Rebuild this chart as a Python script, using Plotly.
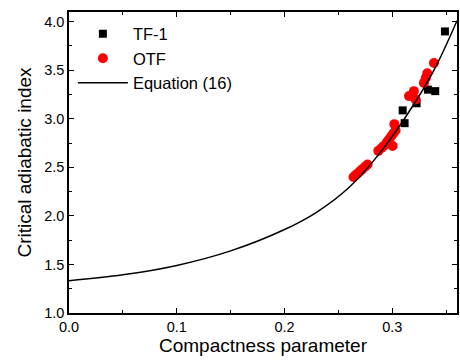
import plotly.graph_objects as go

# TF-1 (black squares)
tf1_x = [0.3488, 0.3398, 0.3330, 0.3225, 0.3096, 0.3114]
tf1_y = [3.90, 3.285, 3.30, 3.160, 3.087, 2.955]

# OTF (red circles)
otf_x = [0.264, 0.266, 0.268, 0.270, 0.272, 0.275, 0.277,
         0.287, 0.290, 0.292, 0.295, 0.297, 0.299, 0.301, 0.303,
         0.3003, 0.3019,
         0.3155, 0.3200, 0.3216, 0.3293, 0.3310, 0.3324, 0.3386]
otf_y = [2.40, 2.42, 2.44, 2.46, 2.48, 2.51, 2.53,
         2.67, 2.70, 2.72, 2.76, 2.79, 2.82, 2.85, 2.88,
         2.72, 2.945,
         3.234, 3.285, 3.20, 3.37, 3.42, 3.47, 3.575]

# Equation (16) curve
eq_x = [0.0, 0.05, 0.10, 0.15, 0.20, 0.23, 0.26, 0.29, 0.32, 0.34, 0.36]
eq_y = [1.333, 1.393, 1.49, 1.64, 1.86, 2.04, 2.295, 2.67, 3.15, 3.53, 4.01]

FONT = "Liberation Sans, Arial, sans-serif"

fig = go.Figure()
fig.add_trace(go.Scatter(x=tf1_x, y=tf1_y, mode="markers", name="TF-1",
                         marker=dict(symbol="square", size=8, color="black")))
fig.add_trace(go.Scatter(x=otf_x, y=otf_y, mode="markers", name="OTF",
                         marker=dict(symbol="circle", size=10, color="#ff0000")))
fig.add_trace(go.Scatter(x=eq_x, y=eq_y, mode="lines", name="Equation (16)",
                         line=dict(color="black", width=1.5, shape="spline", smoothing=1.0)))

axis_common = dict(
    showline=True, linecolor="black", linewidth=1.5, mirror="allticks",
    ticks="inside", ticklen=5, tickwidth=1.2, tickcolor="black",
    showgrid=False, zeroline=False,
    tickfont=dict(family=FONT, size=14.5, color="black"),
)

fig.update_xaxes(range=[0, 0.36], dtick=0.1, tick0=0, tickformat=".1f",
                 minor=dict(ticks="inside", ticklen=3, dtick=0.05, tickcolor="black", tickwidth=1.2),
                 title=dict(text="Compactness parameter", font=dict(family=FONT, size=19, color="black"),
                            standoff=4),
                 **axis_common)
fig.update_yaxes(range=[1.0, 4.1], dtick=0.5, tick0=1.0, tickformat=".1f",
                 minor=dict(ticks="inside", ticklen=3, dtick=0.25, tickcolor="black", tickwidth=1.2),
                 title=dict(text="Critical adiabatic index", font=dict(family=FONT, size=19, color="black"),
                            standoff=8),
                 **axis_common)

fig.update_layout(
    width=460, height=361,
    margin=dict(l=69, r=1, t=12, b=48),
    paper_bgcolor="white", plot_bgcolor="white",
    showlegend=True,
    legend=dict(x=0.01, y=0.985, xanchor="left", yanchor="top",
                bgcolor="rgba(0,0,0,0)", font=dict(family=FONT, size=16.5, color="black"),
                itemwidth=50, tracegroupgap=0),
)

fig.write_html("out.html", config={"displayModeBar": False},
               post_script="document.body.style.margin='0';document.body.style.padding='0';")
